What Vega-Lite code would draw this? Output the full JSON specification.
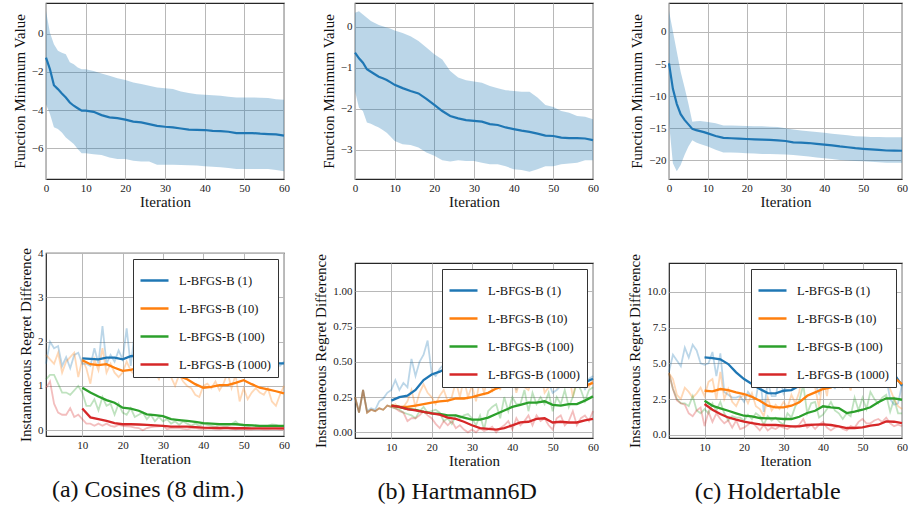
{
"$schema": "https://vega.github.io/schema/vega-lite/v6.json",
"background": "white",
"padding": {"left": 11, "top": 2, "right": 0, "bottom": 3},
"config": {
 "font": "Liberation Serif",
 "view": {"stroke": "#262626", "strokeWidth": 1.2},
 "legend": {"orient": "top-right", "offset": 6, "symbolType": "stroke", "symbolSize": 784, "symbolStrokeWidth": 2.5, "labelFont": "Liberation Serif", "labelFontSize": 12.5, "labelColor": "#111", "fillColor": "white", "strokeColor": "#333", "padding": 6, "rowPadding": 6, "labelOffset": 9},
 "title": {"font": "Liberation Serif", "fontSize": 24, "fontWeight": "normal", "color": "#111", "anchor": "middle"}
},
"datasets": {
 "tA": [
  {"i":0,"m":-1.25,"hi":1.18,"lo":-3.69},{"i":1,"m":-1.86,"hi":0.05,"lo":-4.2},{"i":2,"m":-2.7,"hi":-0.56,"lo":-4.9},{"i":3,"m":-2.9,"hi":-0.9,"lo":-4.99},{"i":4,"m":-3.13,"hi":-1.0,"lo":-5.17},{"i":5,"m":-3.34,"hi":-1.08,"lo":-5.43},{"i":6,"m":-3.6,"hi":-1.5,"lo":-5.6},{"i":7,"m":-3.77,"hi":-1.6,"lo":-5.77},{"i":8,"m":-3.9,"hi":-1.77,"lo":-6.03},{"i":9,"m":-4.03,"hi":-1.86,"lo":-6.26},{"i":10,"m":-4.03,"hi":-1.86,"lo":-6.26},{"i":12,"m":-4.09,"hi":-1.95,"lo":-6.3},{"i":14,"m":-4.26,"hi":-2.09,"lo":-6.35},{"i":16,"m":-4.38,"hi":-2.2,"lo":-6.47},{"i":18,"m":-4.42,"hi":-2.33,"lo":-6.56},{"i":20,"m":-4.5,"hi":-2.43,"lo":-6.56},{"i":22,"m":-4.6,"hi":-2.56,"lo":-6.64},{"i":24,"m":-4.64,"hi":-2.64,"lo":-6.68},{"i":26,"m":-4.73,"hi":-2.73,"lo":-6.68},{"i":28,"m":-4.82,"hi":-2.82,"lo":-6.85},{"i":30,"m":-4.87,"hi":-2.85,"lo":-6.85},{"i":32,"m":-4.9,"hi":-2.9,"lo":-6.86},{"i":34,"m":-4.96,"hi":-3.03,"lo":-6.87},{"i":36,"m":-5.02,"hi":-3.11,"lo":-6.88},{"i":38,"m":-5.03,"hi":-3.17,"lo":-6.9},{"i":40,"m":-5.04,"hi":-3.2,"lo":-6.94},{"i":42,"m":-5.08,"hi":-3.22,"lo":-6.96},{"i":44,"m":-5.1,"hi":-3.25,"lo":-6.99},{"i":46,"m":-5.13,"hi":-3.3,"lo":-7.03},{"i":48,"m":-5.2,"hi":-3.34,"lo":-7.08},{"i":50,"m":-5.2,"hi":-3.34,"lo":-7.08},{"i":52,"m":-5.2,"hi":-3.34,"lo":-7.08},{"i":54,"m":-5.23,"hi":-3.35,"lo":-7.08},{"i":56,"m":-5.25,"hi":-3.37,"lo":-7.08},{"i":58,"m":-5.27,"hi":-3.43,"lo":-7.13},{"i":60,"m":-5.33,"hi":-3.46,"lo":-7.2}
 ],
 "tB": [
  {"i":0,"m":-0.63,"hi":0.34,"lo":-1.57},{"i":1,"m":-0.77,"hi":0.38,"lo":-1.98},{"i":2,"m":-0.88,"hi":0.3,"lo":-2.06},{"i":3,"m":-1.04,"hi":0.22,"lo":-2.34},{"i":4,"m":-1.1,"hi":0.14,"lo":-2.37},{"i":5,"m":-1.16,"hi":0.09,"lo":-2.42},{"i":6,"m":-1.22,"hi":0.04,"lo":-2.46},{"i":7,"m":-1.26,"hi":0.01,"lo":-2.52},{"i":8,"m":-1.3,"hi":-0.02,"lo":-2.59},{"i":9,"m":-1.36,"hi":-0.05,"lo":-2.69},{"i":10,"m":-1.42,"hi":-0.09,"lo":-2.79},{"i":12,"m":-1.5,"hi":-0.15,"lo":-2.87},{"i":14,"m":-1.57,"hi":-0.23,"lo":-2.89},{"i":16,"m":-1.63,"hi":-0.35,"lo":-2.95},{"i":18,"m":-1.76,"hi":-0.51,"lo":-3.07},{"i":20,"m":-1.91,"hi":-0.67,"lo":-3.15},{"i":22,"m":-2.06,"hi":-0.8,"lo":-3.26},{"i":24,"m":-2.18,"hi":-1.08,"lo":-3.29},{"i":26,"m":-2.24,"hi":-1.24,"lo":-3.26},{"i":28,"m":-2.28,"hi":-1.31,"lo":-3.28},{"i":30,"m":-2.3,"hi":-1.34,"lo":-3.28},{"i":32,"m":-2.32,"hi":-1.37,"lo":-3.32},{"i":34,"m":-2.38,"hi":-1.45,"lo":-3.36},{"i":36,"m":-2.4,"hi":-1.5,"lo":-3.36},{"i":38,"m":-2.46,"hi":-1.55,"lo":-3.41},{"i":40,"m":-2.5,"hi":-1.57,"lo":-3.48},{"i":42,"m":-2.54,"hi":-1.59,"lo":-3.5},{"i":44,"m":-2.57,"hi":-1.59,"lo":-3.54},{"i":46,"m":-2.61,"hi":-1.73,"lo":-3.48},{"i":48,"m":-2.66,"hi":-1.91,"lo":-3.41},{"i":50,"m":-2.67,"hi":-1.96,"lo":-3.41},{"i":52,"m":-2.71,"hi":-2.06,"lo":-3.36},{"i":54,"m":-2.72,"hi":-2.1,"lo":-3.34},{"i":56,"m":-2.72,"hi":-2.18,"lo":-3.32},{"i":58,"m":-2.73,"hi":-2.2,"lo":-3.26},{"i":60,"m":-2.77,"hi":-2.26,"lo":-3.26}
 ],
 "tC": [
  {"i":0,"m":-4.9,"hi":3.27,"lo":-14.1},{"i":1,"m":-8.86,"hi":0.1,"lo":-20.46},{"i":2,"m":-11.2,"hi":-3.06,"lo":-21.68},{"i":3,"m":-12.8,"hi":-6.2,"lo":-20.73},{"i":4,"m":-13.7,"hi":-8.6,"lo":-19.15},{"i":5,"m":-14.4,"hi":-11.2,"lo":-17.83},{"i":6,"m":-15.1,"hi":-14.0,"lo":-16.88},{"i":7,"m":-15.3,"hi":-13.9,"lo":-17.2},{"i":8,"m":-15.45,"hi":-13.87,"lo":-17.46},{"i":9,"m":-15.6,"hi":-13.95,"lo":-17.65},{"i":10,"m":-15.8,"hi":-14.03,"lo":-17.83},{"i":12,"m":-16.2,"hi":-14.24,"lo":-18.35},{"i":14,"m":-16.5,"hi":-14.56,"lo":-18.78},{"i":16,"m":-16.56,"hi":-14.56,"lo":-18.78},{"i":18,"m":-16.6,"hi":-14.6,"lo":-18.83},{"i":20,"m":-16.67,"hi":-14.66,"lo":-18.88},{"i":22,"m":-16.72,"hi":-14.68,"lo":-18.93},{"i":24,"m":-16.77,"hi":-14.7,"lo":-18.99},{"i":26,"m":-16.82,"hi":-14.76,"lo":-19.0},{"i":28,"m":-16.88,"hi":-14.82,"lo":-19.04},{"i":30,"m":-16.98,"hi":-15.0,"lo":-19.1},{"i":32,"m":-17.2,"hi":-15.2,"lo":-19.15},{"i":34,"m":-17.25,"hi":-15.33,"lo":-19.28},{"i":36,"m":-17.3,"hi":-15.45,"lo":-19.41},{"i":38,"m":-17.43,"hi":-15.58,"lo":-19.54},{"i":40,"m":-17.56,"hi":-15.7,"lo":-19.67},{"i":42,"m":-17.67,"hi":-15.84,"lo":-19.8},{"i":44,"m":-17.83,"hi":-15.98,"lo":-19.94},{"i":46,"m":-17.96,"hi":-16.1,"lo":-20.02},{"i":48,"m":-18.1,"hi":-16.24,"lo":-20.1},{"i":50,"m":-18.2,"hi":-16.3,"lo":-20.15},{"i":52,"m":-18.3,"hi":-16.35,"lo":-20.2},{"i":54,"m":-18.38,"hi":-16.38,"lo":-20.28},{"i":56,"m":-18.46,"hi":-16.4,"lo":-20.36},{"i":58,"m":-18.48,"hi":-16.4,"lo":-20.36},{"i":60,"m":-18.5,"hi":-16.4,"lo":-20.36}
 ],
 "rA": [
  {"i":1,"n":1,"v":1.5},{"i":2,"n":1,"v":2.0},{"i":3,"n":1,"v":1.85},{"i":4,"n":1,"v":1.9},{"i":5,"n":1,"v":1.45},{"i":6,"n":1,"v":1.65},{"i":7,"n":1,"v":1.4},{"i":8,"n":1,"v":1.7},{"i":9,"n":1,"v":1.75},{"i":10,"n":1,"v":1.5},{"i":11,"n":1,"v":1.5},{"i":12,"n":1,"v":1.45},{"i":13,"n":1,"v":1.85},{"i":14,"n":1,"v":1.5},{"i":15,"n":1,"v":2.35},{"i":16,"n":1,"v":1.5},{"i":17,"n":1,"v":1.7},{"i":18,"n":1,"v":1.55},{"i":19,"n":1,"v":1.8},{"i":20,"n":1,"v":1.6},{"i":21,"n":1,"v":2.3},{"i":22,"n":1,"v":1.45},{"i":23,"n":1,"v":2.2},{"i":24,"n":1,"v":2.0},{"i":25,"n":1,"v":1.7},{"i":26,"n":1,"v":1.8},{"i":27,"n":1,"v":1.9},{"i":28,"n":1,"v":1.7},{"i":29,"n":1,"v":1.2},{"i":30,"n":1,"v":2.0},{"i":31,"n":1,"v":1.8},{"i":32,"n":1,"v":1.75},{"i":33,"n":1,"v":1.6},{"i":34,"n":1,"v":1.85},{"i":35,"n":1,"v":1.55},{"i":36,"n":1,"v":1.65},{"i":37,"n":1,"v":1.45},{"i":38,"n":1,"v":1.6},{"i":39,"n":1,"v":1.2},{"i":40,"n":1,"v":1.3},{"i":41,"n":1,"v":1.5},{"i":42,"n":1,"v":1.8},{"i":43,"n":1,"v":1.35},{"i":44,"n":1,"v":1.3},{"i":45,"n":1,"v":1.4},{"i":46,"n":1,"v":1.25},{"i":47,"n":1,"v":1.3},{"i":48,"n":1,"v":1.45},{"i":49,"n":1,"v":1.7},{"i":50,"n":1,"v":1.3},{"i":51,"n":1,"v":1.45},{"i":52,"n":1,"v":1.35},{"i":53,"n":1,"v":1.55},{"i":54,"n":1,"v":1.65},{"i":55,"n":1,"v":1.6},{"i":56,"n":1,"v":1.7},{"i":57,"n":1,"v":1.75},{"i":58,"n":1,"v":1.5},{"i":59,"n":1,"v":1.45},{"i":60,"n":1,"v":1.55},
  {"i":1,"n":10,"v":1.7},{"i":2,"n":10,"v":1.6},{"i":3,"n":10,"v":1.5},{"i":4,"n":10,"v":1.75},{"i":5,"n":10,"v":1.3},{"i":6,"n":10,"v":1.55},{"i":7,"n":10,"v":1.65},{"i":8,"n":10,"v":1.75},{"i":9,"n":10,"v":1.2},{"i":10,"n":10,"v":1.6},{"i":11,"n":10,"v":1.4},{"i":12,"n":10,"v":1.05},{"i":13,"n":10,"v":1.6},{"i":14,"n":10,"v":1.35},{"i":15,"n":10,"v":1.85},{"i":16,"n":10,"v":1.3},{"i":17,"n":10,"v":1.5},{"i":18,"n":10,"v":1.3},{"i":19,"n":10,"v":1.2},{"i":20,"n":10,"v":1.3},{"i":21,"n":10,"v":1.55},{"i":22,"n":10,"v":1.35},{"i":23,"n":10,"v":1.25},{"i":24,"n":10,"v":1.45},{"i":25,"n":10,"v":1.3},{"i":26,"n":10,"v":1.2},{"i":27,"n":10,"v":1.45},{"i":28,"n":10,"v":1.3},{"i":29,"n":10,"v":1.15},{"i":30,"n":10,"v":1.4},{"i":31,"n":10,"v":1.35},{"i":32,"n":10,"v":1.2},{"i":33,"n":10,"v":1.0},{"i":34,"n":10,"v":1.25},{"i":35,"n":10,"v":1.1},{"i":36,"n":10,"v":1.0},{"i":37,"n":10,"v":0.95},{"i":38,"n":10,"v":0.8},{"i":39,"n":10,"v":0.75},{"i":40,"n":10,"v":1.0},{"i":41,"n":10,"v":1.05},{"i":42,"n":10,"v":0.95},{"i":43,"n":10,"v":1.1},{"i":44,"n":10,"v":0.9},{"i":45,"n":10,"v":1.05},{"i":46,"n":10,"v":1.3},{"i":47,"n":10,"v":0.95},{"i":48,"n":10,"v":1.25},{"i":49,"n":10,"v":0.65},{"i":50,"n":10,"v":0.95},{"i":51,"n":10,"v":0.7},{"i":52,"n":10,"v":0.85},{"i":53,"n":10,"v":0.95},{"i":54,"n":10,"v":0.85},{"i":55,"n":10,"v":0.8},{"i":56,"n":10,"v":0.95},{"i":57,"n":10,"v":0.65},{"i":58,"n":10,"v":0.55},{"i":59,"n":10,"v":0.8},{"i":60,"n":10,"v":1.0},
  {"i":1,"n":100,"v":1.15},{"i":2,"n":100,"v":1.25},{"i":3,"n":100,"v":1.25},{"i":4,"n":100,"v":1.05},{"i":5,"n":100,"v":0.85},{"i":6,"n":100,"v":0.85},{"i":7,"n":100,"v":0.8},{"i":8,"n":100,"v":0.9},{"i":9,"n":100,"v":1.0},{"i":10,"n":100,"v":0.85},{"i":11,"n":100,"v":0.55},{"i":12,"n":100,"v":0.55},{"i":13,"n":100,"v":0.7},{"i":14,"n":100,"v":0.45},{"i":15,"n":100,"v":0.75},{"i":16,"n":100,"v":0.55},{"i":17,"n":100,"v":0.6},{"i":18,"n":100,"v":0.35},{"i":19,"n":100,"v":0.6},{"i":20,"n":100,"v":0.4},{"i":21,"n":100,"v":0.35},{"i":22,"n":100,"v":0.5},{"i":23,"n":100,"v":0.3},{"i":24,"n":100,"v":0.35},{"i":25,"n":100,"v":0.4},{"i":26,"n":100,"v":0.25},{"i":27,"n":100,"v":0.35},{"i":28,"n":100,"v":0.2},{"i":29,"n":100,"v":0.3},{"i":30,"n":100,"v":0.2},{"i":31,"n":100,"v":0.25},{"i":32,"n":100,"v":0.15},{"i":33,"n":100,"v":0.2},{"i":34,"n":100,"v":0.12},{"i":35,"n":100,"v":0.2},{"i":36,"n":100,"v":0.15},{"i":37,"n":100,"v":0.1},{"i":38,"n":100,"v":0.15},{"i":39,"n":100,"v":0.1},{"i":40,"n":100,"v":0.15},{"i":41,"n":100,"v":0.12},{"i":42,"n":100,"v":0.1},{"i":43,"n":100,"v":0.08},{"i":44,"n":100,"v":0.12},{"i":45,"n":100,"v":0.1},{"i":46,"n":100,"v":0.1},{"i":47,"n":100,"v":0.14},{"i":48,"n":100,"v":0.2},{"i":49,"n":100,"v":0.12},{"i":50,"n":100,"v":0.1},{"i":51,"n":100,"v":0.08},{"i":52,"n":100,"v":0.12},{"i":53,"n":100,"v":0.1},{"i":54,"n":100,"v":0.08},{"i":55,"n":100,"v":0.1},{"i":56,"n":100,"v":0.1},{"i":57,"n":100,"v":0.13},{"i":58,"n":100,"v":0.12},{"i":59,"n":100,"v":0.09},{"i":60,"n":100,"v":0.08},
  {"i":1,"n":1000,"v":0.95},{"i":2,"n":1000,"v":1.1},{"i":3,"n":1000,"v":0.6},{"i":4,"n":1000,"v":0.4},{"i":5,"n":1000,"v":0.35},{"i":6,"n":1000,"v":0.35},{"i":7,"n":1000,"v":0.5},{"i":8,"n":1000,"v":0.3},{"i":9,"n":1000,"v":0.35},{"i":10,"n":1000,"v":0.25},{"i":11,"n":1000,"v":0.15},{"i":12,"n":1000,"v":0.15},{"i":13,"n":1000,"v":0.1},{"i":14,"n":1000,"v":0.15},{"i":15,"n":1000,"v":0.1},{"i":16,"n":1000,"v":0.15},{"i":17,"n":1000,"v":0.1},{"i":18,"n":1000,"v":0.08},{"i":19,"n":1000,"v":0.12},{"i":20,"n":1000,"v":0.1},{"i":21,"n":1000,"v":0.09},{"i":22,"n":1000,"v":0.08},{"i":23,"n":1000,"v":0.06},{"i":24,"n":1000,"v":0.05},{"i":25,"n":1000,"v":0.0},{"i":26,"n":1000,"v":0.05},{"i":27,"n":1000,"v":0.07},{"i":28,"n":1000,"v":0.08},{"i":29,"n":1000,"v":0.09},{"i":30,"n":1000,"v":0.1},{"i":31,"n":1000,"v":0.02},{"i":32,"n":1000,"v":0.05},{"i":33,"n":1000,"v":0.04},{"i":34,"n":1000,"v":0.05},{"i":35,"n":1000,"v":0.03},{"i":36,"n":1000,"v":0.02},{"i":37,"n":1000,"v":0.04},{"i":38,"n":1000,"v":0.05},{"i":39,"n":1000,"v":0.03},{"i":40,"n":1000,"v":0.02},{"i":41,"n":1000,"v":0.03},{"i":42,"n":1000,"v":0.03},{"i":43,"n":1000,"v":0.02},{"i":44,"n":1000,"v":0.02},{"i":45,"n":1000,"v":0.04},{"i":46,"n":1000,"v":0.05},{"i":47,"n":1000,"v":0.03},{"i":48,"n":1000,"v":0.02},{"i":49,"n":1000,"v":0.03},{"i":50,"n":1000,"v":0.03},{"i":51,"n":1000,"v":0.02},{"i":52,"n":1000,"v":0.02},{"i":53,"n":1000,"v":0.03},{"i":54,"n":1000,"v":0.03},{"i":55,"n":1000,"v":0.02},{"i":56,"n":1000,"v":0.02},{"i":57,"n":1000,"v":0.03},{"i":58,"n":1000,"v":0.03},{"i":59,"n":1000,"v":0.02},{"i":60,"n":1000,"v":0.02}
 ],
 "sA": [
  {"i":10,"n":1,"v":1.62},{"i":12,"n":1,"v":1.61},{"i":14,"n":1,"v":1.6},{"i":16,"n":1,"v":1.64},{"i":18,"n":1,"v":1.64},{"i":20,"n":1,"v":1.6},{"i":22,"n":1,"v":1.67},{"i":24,"n":1,"v":1.69},{"i":26,"n":1,"v":1.68},{"i":28,"n":1,"v":1.71},{"i":30,"n":1,"v":1.75},{"i":32,"n":1,"v":1.75},{"i":34,"n":1,"v":1.64},{"i":36,"n":1,"v":1.6},{"i":38,"n":1,"v":1.51},{"i":40,"n":1,"v":1.41},{"i":42,"n":1,"v":1.34},{"i":44,"n":1,"v":1.37},{"i":46,"n":1,"v":1.34},{"i":48,"n":1,"v":1.38},{"i":50,"n":1,"v":1.45},{"i":52,"n":1,"v":1.41},{"i":54,"n":1,"v":1.41},{"i":56,"n":1,"v":1.46},{"i":58,"n":1,"v":1.51},{"i":60,"n":1,"v":1.51},
  {"i":10,"n":10,"v":1.58},{"i":12,"n":10,"v":1.49},{"i":14,"n":10,"v":1.47},{"i":16,"n":10,"v":1.49},{"i":18,"n":10,"v":1.41},{"i":20,"n":10,"v":1.34},{"i":22,"n":10,"v":1.36},{"i":24,"n":10,"v":1.41},{"i":26,"n":10,"v":1.28},{"i":28,"n":10,"v":1.36},{"i":30,"n":10,"v":1.37},{"i":32,"n":10,"v":1.37},{"i":34,"n":10,"v":1.22},{"i":36,"n":10,"v":1.15},{"i":38,"n":10,"v":1.04},{"i":40,"n":10,"v":0.96},{"i":42,"n":10,"v":0.98},{"i":44,"n":10,"v":1.02},{"i":46,"n":10,"v":1.02},{"i":48,"n":10,"v":1.07},{"i":50,"n":10,"v":1.13},{"i":52,"n":10,"v":1.04},{"i":54,"n":10,"v":0.96},{"i":56,"n":10,"v":0.92},{"i":58,"n":10,"v":0.88},{"i":60,"n":10,"v":0.83},
  {"i":10,"n":100,"v":0.96},{"i":12,"n":100,"v":0.85},{"i":14,"n":100,"v":0.76},{"i":16,"n":100,"v":0.68},{"i":18,"n":100,"v":0.62},{"i":20,"n":100,"v":0.51},{"i":22,"n":100,"v":0.49},{"i":24,"n":100,"v":0.44},{"i":26,"n":100,"v":0.36},{"i":28,"n":100,"v":0.34},{"i":30,"n":100,"v":0.32},{"i":32,"n":100,"v":0.25},{"i":34,"n":100,"v":0.23},{"i":36,"n":100,"v":0.21},{"i":38,"n":100,"v":0.19},{"i":40,"n":100,"v":0.16},{"i":42,"n":100,"v":0.15},{"i":44,"n":100,"v":0.14},{"i":46,"n":100,"v":0.14},{"i":48,"n":100,"v":0.135},{"i":50,"n":100,"v":0.12},{"i":52,"n":100,"v":0.11},{"i":54,"n":100,"v":0.1},{"i":56,"n":100,"v":0.1},{"i":58,"n":100,"v":0.1},{"i":60,"n":100,"v":0.1},
  {"i":10,"n":1000,"v":0.49},{"i":12,"n":1000,"v":0.29},{"i":14,"n":1000,"v":0.25},{"i":16,"n":1000,"v":0.21},{"i":18,"n":1000,"v":0.16},{"i":20,"n":1000,"v":0.135},{"i":22,"n":1000,"v":0.135},{"i":24,"n":1000,"v":0.13},{"i":26,"n":1000,"v":0.12},{"i":28,"n":1000,"v":0.11},{"i":30,"n":1000,"v":0.1},{"i":32,"n":1000,"v":0.08},{"i":34,"n":1000,"v":0.08},{"i":36,"n":1000,"v":0.08},{"i":38,"n":1000,"v":0.07},{"i":40,"n":1000,"v":0.06},{"i":42,"n":1000,"v":0.055},{"i":44,"n":1000,"v":0.05},{"i":46,"n":1000,"v":0.05},{"i":48,"n":1000,"v":0.045},{"i":50,"n":1000,"v":0.045},{"i":52,"n":1000,"v":0.04},{"i":54,"n":1000,"v":0.04},{"i":56,"n":1000,"v":0.04},{"i":58,"n":1000,"v":0.04},{"i":60,"n":1000,"v":0.04}
 ],
 "rB": [
  {"i":1,"n":1,"v":0.25},{"i":2,"n":1,"v":0.14},{"i":3,"n":1,"v":0.3},{"i":4,"n":1,"v":0.15},{"i":5,"n":1,"v":0.17},{"i":6,"n":1,"v":0.16},{"i":7,"n":1,"v":0.22},{"i":8,"n":1,"v":0.24},{"i":9,"n":1,"v":0.28},{"i":10,"n":1,"v":0.3},{"i":11,"n":1,"v":0.37},{"i":12,"n":1,"v":0.3},{"i":13,"n":1,"v":0.35},{"i":14,"n":1,"v":0.32},{"i":15,"n":1,"v":0.52},{"i":16,"n":1,"v":0.4},{"i":17,"n":1,"v":0.5},{"i":18,"n":1,"v":0.55},{"i":19,"n":1,"v":0.65},{"i":20,"n":1,"v":0.42},{"i":21,"n":1,"v":0.4},{"i":22,"n":1,"v":0.45},{"i":23,"n":1,"v":0.48},{"i":24,"n":1,"v":0.42},{"i":25,"n":1,"v":0.56},{"i":26,"n":1,"v":0.52},{"i":27,"n":1,"v":0.38},{"i":28,"n":1,"v":0.5},{"i":29,"n":1,"v":0.35},{"i":30,"n":1,"v":0.54},{"i":31,"n":1,"v":0.4},{"i":32,"n":1,"v":0.5},{"i":33,"n":1,"v":0.62},{"i":34,"n":1,"v":0.42},{"i":35,"n":1,"v":0.5},{"i":36,"n":1,"v":0.45},{"i":37,"n":1,"v":0.44},{"i":38,"n":1,"v":0.47},{"i":39,"n":1,"v":0.35},{"i":40,"n":1,"v":0.45},{"i":41,"n":1,"v":0.3},{"i":42,"n":1,"v":0.45},{"i":43,"n":1,"v":0.48},{"i":44,"n":1,"v":0.38},{"i":45,"n":1,"v":0.44},{"i":46,"n":1,"v":0.35},{"i":47,"n":1,"v":0.4},{"i":48,"n":1,"v":0.42},{"i":49,"n":1,"v":0.35},{"i":50,"n":1,"v":0.28},{"i":51,"n":1,"v":0.3},{"i":52,"n":1,"v":0.33},{"i":53,"n":1,"v":0.52},{"i":54,"n":1,"v":0.35},{"i":55,"n":1,"v":0.4},{"i":56,"n":1,"v":0.38},{"i":57,"n":1,"v":0.48},{"i":58,"n":1,"v":0.3},{"i":59,"n":1,"v":0.38},{"i":60,"n":1,"v":0.4},
  {"i":1,"n":10,"v":0.25},{"i":2,"n":10,"v":0.14},{"i":3,"n":10,"v":0.3},{"i":4,"n":10,"v":0.14},{"i":5,"n":10,"v":0.16},{"i":6,"n":10,"v":0.15},{"i":7,"n":10,"v":0.17},{"i":8,"n":10,"v":0.16},{"i":9,"n":10,"v":0.19},{"i":10,"n":10,"v":0.18},{"i":11,"n":10,"v":0.2},{"i":12,"n":10,"v":0.17},{"i":13,"n":10,"v":0.18},{"i":14,"n":10,"v":0.22},{"i":15,"n":10,"v":0.3},{"i":16,"n":10,"v":0.18},{"i":17,"n":10,"v":0.28},{"i":18,"n":10,"v":0.34},{"i":19,"n":10,"v":0.28},{"i":20,"n":10,"v":0.25},{"i":21,"n":10,"v":0.2},{"i":22,"n":10,"v":0.26},{"i":23,"n":10,"v":0.3},{"i":24,"n":10,"v":0.22},{"i":25,"n":10,"v":0.25},{"i":26,"n":10,"v":0.36},{"i":27,"n":10,"v":0.25},{"i":28,"n":10,"v":0.38},{"i":29,"n":10,"v":0.25},{"i":30,"n":10,"v":0.33},{"i":31,"n":10,"v":0.22},{"i":32,"n":10,"v":0.38},{"i":33,"n":10,"v":0.28},{"i":34,"n":10,"v":0.4},{"i":35,"n":10,"v":0.3},{"i":36,"n":10,"v":0.42},{"i":37,"n":10,"v":0.3},{"i":38,"n":10,"v":0.45},{"i":39,"n":10,"v":0.32},{"i":40,"n":10,"v":0.42},{"i":41,"n":10,"v":0.28},{"i":42,"n":10,"v":0.38},{"i":43,"n":10,"v":0.32},{"i":44,"n":10,"v":0.3},{"i":45,"n":10,"v":0.38},{"i":46,"n":10,"v":0.35},{"i":47,"n":10,"v":0.43},{"i":48,"n":10,"v":0.28},{"i":49,"n":10,"v":0.32},{"i":50,"n":10,"v":0.38},{"i":51,"n":10,"v":0.32},{"i":52,"n":10,"v":0.4},{"i":53,"n":10,"v":0.35},{"i":54,"n":10,"v":0.42},{"i":55,"n":10,"v":0.25},{"i":56,"n":10,"v":0.38},{"i":57,"n":10,"v":0.44},{"i":58,"n":10,"v":0.35},{"i":59,"n":10,"v":0.32},{"i":60,"n":10,"v":0.38},
  {"i":1,"n":100,"v":0.25},{"i":2,"n":100,"v":0.14},{"i":3,"n":100,"v":0.3},{"i":4,"n":100,"v":0.14},{"i":5,"n":100,"v":0.16},{"i":6,"n":100,"v":0.15},{"i":7,"n":100,"v":0.17},{"i":8,"n":100,"v":0.16},{"i":9,"n":100,"v":0.19},{"i":10,"n":100,"v":0.18},{"i":11,"n":100,"v":0.17},{"i":12,"n":100,"v":0.16},{"i":13,"n":100,"v":0.14},{"i":14,"n":100,"v":0.13},{"i":15,"n":100,"v":0.12},{"i":16,"n":100,"v":0.1},{"i":17,"n":100,"v":0.15},{"i":18,"n":100,"v":0.18},{"i":19,"n":100,"v":0.14},{"i":20,"n":100,"v":0.15},{"i":21,"n":100,"v":0.16},{"i":22,"n":100,"v":0.14},{"i":23,"n":100,"v":0.08},{"i":24,"n":100,"v":0.1},{"i":25,"n":100,"v":0.06},{"i":26,"n":100,"v":0.12},{"i":27,"n":100,"v":0.1},{"i":28,"n":100,"v":0.12},{"i":29,"n":100,"v":0.13},{"i":30,"n":100,"v":0.1},{"i":31,"n":100,"v":0.05},{"i":32,"n":100,"v":0.12},{"i":33,"n":100,"v":0.02},{"i":34,"n":100,"v":0.15},{"i":35,"n":100,"v":0.18},{"i":36,"n":100,"v":0.2},{"i":37,"n":100,"v":0.1},{"i":38,"n":100,"v":0.25},{"i":39,"n":100,"v":0.15},{"i":40,"n":100,"v":0.25},{"i":41,"n":100,"v":0.2},{"i":42,"n":100,"v":0.2},{"i":43,"n":100,"v":0.3},{"i":44,"n":100,"v":0.15},{"i":45,"n":100,"v":0.28},{"i":46,"n":100,"v":0.2},{"i":47,"n":100,"v":0.25},{"i":48,"n":100,"v":0.2},{"i":49,"n":100,"v":0.28},{"i":50,"n":100,"v":0.15},{"i":51,"n":100,"v":0.25},{"i":52,"n":100,"v":0.2},{"i":53,"n":100,"v":0.3},{"i":54,"n":100,"v":0.18},{"i":55,"n":100,"v":0.25},{"i":56,"n":100,"v":0.35},{"i":57,"n":100,"v":0.3},{"i":58,"n":100,"v":0.22},{"i":59,"n":100,"v":0.3},{"i":60,"n":100,"v":0.32},
  {"i":1,"n":1000,"v":0.25},{"i":2,"n":1000,"v":0.14},{"i":3,"n":1000,"v":0.3},{"i":4,"n":1000,"v":0.14},{"i":5,"n":1000,"v":0.16},{"i":6,"n":1000,"v":0.15},{"i":7,"n":1000,"v":0.17},{"i":8,"n":1000,"v":0.16},{"i":9,"n":1000,"v":0.19},{"i":10,"n":1000,"v":0.18},{"i":11,"n":1000,"v":0.17},{"i":12,"n":1000,"v":0.15},{"i":13,"n":1000,"v":0.14},{"i":14,"n":1000,"v":0.08},{"i":15,"n":1000,"v":0.1},{"i":16,"n":1000,"v":0.1},{"i":17,"n":1000,"v":0.12},{"i":18,"n":1000,"v":0.15},{"i":19,"n":1000,"v":0.12},{"i":20,"n":1000,"v":0.1},{"i":21,"n":1000,"v":0.06},{"i":22,"n":1000,"v":0.03},{"i":23,"n":1000,"v":0.08},{"i":24,"n":1000,"v":0.05},{"i":25,"n":1000,"v":0.08},{"i":26,"n":1000,"v":0.03},{"i":27,"n":1000,"v":0.05},{"i":28,"n":1000,"v":0.02},{"i":29,"n":1000,"v":0.0},{"i":30,"n":1000,"v":0.02},{"i":31,"n":1000,"v":0.0},{"i":32,"n":1000,"v":0.03},{"i":33,"n":1000,"v":0.01},{"i":34,"n":1000,"v":0.02},{"i":35,"n":1000,"v":0.04},{"i":36,"n":1000,"v":0.0},{"i":37,"n":1000,"v":0.03},{"i":38,"n":1000,"v":0.05},{"i":39,"n":1000,"v":0.08},{"i":40,"n":1000,"v":0.02},{"i":41,"n":1000,"v":0.1},{"i":42,"n":1000,"v":0.05},{"i":43,"n":1000,"v":0.08},{"i":44,"n":1000,"v":0.12},{"i":45,"n":1000,"v":0.05},{"i":46,"n":1000,"v":0.12},{"i":47,"n":1000,"v":0.08},{"i":48,"n":1000,"v":0.1},{"i":49,"n":1000,"v":0.05},{"i":50,"n":1000,"v":0.02},{"i":51,"n":1000,"v":0.1},{"i":52,"n":1000,"v":0.12},{"i":53,"n":1000,"v":0.05},{"i":54,"n":1000,"v":0.08},{"i":55,"n":1000,"v":0.15},{"i":56,"n":1000,"v":0.05},{"i":57,"n":1000,"v":0.1},{"i":58,"n":1000,"v":0.12},{"i":59,"n":1000,"v":0.08},{"i":60,"n":1000,"v":0.15}
 ],
 "sB": [
  {"i":10,"n":1,"v":0.225},{"i":12,"n":1,"v":0.25},{"i":14,"n":1,"v":0.26},{"i":16,"n":1,"v":0.3},{"i":18,"n":1,"v":0.37},{"i":20,"n":1,"v":0.41},{"i":22,"n":1,"v":0.43},{"i":24,"n":1,"v":0.46},{"i":26,"n":1,"v":0.48},{"i":28,"n":1,"v":0.48},{"i":30,"n":1,"v":0.45},{"i":32,"n":1,"v":0.46},{"i":34,"n":1,"v":0.46},{"i":36,"n":1,"v":0.445},{"i":38,"n":1,"v":0.45},{"i":40,"n":1,"v":0.44},{"i":42,"n":1,"v":0.425},{"i":44,"n":1,"v":0.41},{"i":46,"n":1,"v":0.405},{"i":48,"n":1,"v":0.4},{"i":50,"n":1,"v":0.36},{"i":52,"n":1,"v":0.35},{"i":54,"n":1,"v":0.355},{"i":56,"n":1,"v":0.35},{"i":58,"n":1,"v":0.355},{"i":60,"n":1,"v":0.38},
  {"i":10,"n":10,"v":0.19},{"i":12,"n":10,"v":0.18},{"i":14,"n":10,"v":0.18},{"i":16,"n":10,"v":0.19},{"i":18,"n":10,"v":0.2},{"i":20,"n":10,"v":0.21},{"i":22,"n":10,"v":0.22},{"i":24,"n":10,"v":0.225},{"i":26,"n":10,"v":0.24},{"i":28,"n":10,"v":0.24},{"i":30,"n":10,"v":0.25},{"i":32,"n":10,"v":0.265},{"i":34,"n":10,"v":0.28},{"i":36,"n":10,"v":0.31},{"i":38,"n":10,"v":0.33},{"i":40,"n":10,"v":0.35},{"i":42,"n":10,"v":0.345},{"i":44,"n":10,"v":0.355},{"i":46,"n":10,"v":0.355},{"i":48,"n":10,"v":0.365},{"i":50,"n":10,"v":0.33},{"i":52,"n":10,"v":0.33},{"i":54,"n":10,"v":0.325},{"i":56,"n":10,"v":0.33},{"i":58,"n":10,"v":0.33},{"i":60,"n":10,"v":0.35},
  {"i":10,"n":100,"v":0.19},{"i":12,"n":100,"v":0.18},{"i":14,"n":100,"v":0.165},{"i":16,"n":100,"v":0.16},{"i":18,"n":100,"v":0.145},{"i":20,"n":100,"v":0.135},{"i":22,"n":100,"v":0.13},{"i":24,"n":100,"v":0.12},{"i":26,"n":100,"v":0.12},{"i":28,"n":100,"v":0.105},{"i":30,"n":100,"v":0.09},{"i":32,"n":100,"v":0.09},{"i":34,"n":100,"v":0.105},{"i":36,"n":100,"v":0.13},{"i":38,"n":100,"v":0.155},{"i":40,"n":100,"v":0.18},{"i":42,"n":100,"v":0.195},{"i":44,"n":100,"v":0.21},{"i":46,"n":100,"v":0.21},{"i":48,"n":100,"v":0.22},{"i":50,"n":100,"v":0.195},{"i":52,"n":100,"v":0.19},{"i":54,"n":100,"v":0.2},{"i":56,"n":100,"v":0.2},{"i":58,"n":100,"v":0.225},{"i":60,"n":100,"v":0.255},
  {"i":10,"n":1000,"v":0.19},{"i":12,"n":1000,"v":0.18},{"i":14,"n":1000,"v":0.165},{"i":16,"n":1000,"v":0.155},{"i":18,"n":1000,"v":0.145},{"i":20,"n":1000,"v":0.135},{"i":22,"n":1000,"v":0.125},{"i":24,"n":1000,"v":0.105},{"i":26,"n":1000,"v":0.095},{"i":28,"n":1000,"v":0.075},{"i":30,"n":1000,"v":0.05},{"i":32,"n":1000,"v":0.03},{"i":34,"n":1000,"v":0.025},{"i":36,"n":1000,"v":0.02},{"i":38,"n":1000,"v":0.03},{"i":40,"n":1000,"v":0.05},{"i":42,"n":1000,"v":0.07},{"i":44,"n":1000,"v":0.075},{"i":46,"n":1000,"v":0.095},{"i":48,"n":1000,"v":0.1},{"i":50,"n":1000,"v":0.07},{"i":52,"n":1000,"v":0.075},{"i":54,"n":1000,"v":0.07},{"i":56,"n":1000,"v":0.07},{"i":58,"n":1000,"v":0.085},{"i":60,"n":1000,"v":0.095}
 ],
 "rC": [
  {"i":1,"n":1,"v":4.4},{"i":2,"n":1,"v":5.6},{"i":3,"n":1,"v":5.2},{"i":4,"n":1,"v":4.8},{"i":5,"n":1,"v":6.1},{"i":6,"n":1,"v":5.4},{"i":7,"n":1,"v":6.3},{"i":8,"n":1,"v":5.9},{"i":9,"n":1,"v":5.0},{"i":10,"n":1,"v":4.9},{"i":11,"n":1,"v":5.0},{"i":12,"n":1,"v":5.8},{"i":13,"n":1,"v":4.1},{"i":14,"n":1,"v":5.7},{"i":15,"n":1,"v":3.0},{"i":16,"n":1,"v":2.8},{"i":17,"n":1,"v":2.6},{"i":18,"n":1,"v":2.6},{"i":19,"n":1,"v":2.7},{"i":20,"n":1,"v":2.3},{"i":21,"n":1,"v":3.0},{"i":22,"n":1,"v":2.6},{"i":23,"n":1,"v":2.5},{"i":24,"n":1,"v":4.2},{"i":25,"n":1,"v":1.6},{"i":26,"n":1,"v":3.7},{"i":27,"n":1,"v":2.7},{"i":28,"n":1,"v":2.7},{"i":29,"n":1,"v":4.1},{"i":30,"n":1,"v":2.9},{"i":31,"n":1,"v":3.6},{"i":32,"n":1,"v":3.9},{"i":33,"n":1,"v":4.5},{"i":34,"n":1,"v":3.5},{"i":35,"n":1,"v":4.9},{"i":36,"n":1,"v":3.3},{"i":37,"n":1,"v":4.1},{"i":38,"n":1,"v":3.6},{"i":39,"n":1,"v":2.9},{"i":40,"n":1,"v":3.8},{"i":41,"n":1,"v":3.3},{"i":42,"n":1,"v":4.1},{"i":43,"n":1,"v":3.2},{"i":44,"n":1,"v":5.4},{"i":45,"n":1,"v":5.0},{"i":46,"n":1,"v":3.6},{"i":47,"n":1,"v":3.5},{"i":48,"n":1,"v":4.8},{"i":49,"n":1,"v":5.0},{"i":50,"n":1,"v":4.5},{"i":51,"n":1,"v":4.7},{"i":52,"n":1,"v":4.4},{"i":53,"n":1,"v":4.3},{"i":54,"n":1,"v":4.6},{"i":55,"n":1,"v":3.7},{"i":56,"n":1,"v":4.0},{"i":57,"n":1,"v":2.5},{"i":58,"n":1,"v":2.1},{"i":59,"n":1,"v":2.2},{"i":60,"n":1,"v":3.5},
  {"i":1,"n":10,"v":4.3},{"i":2,"n":10,"v":3.9},{"i":3,"n":10,"v":2.8},{"i":4,"n":10,"v":2.5},{"i":5,"n":10,"v":3.3},{"i":6,"n":10,"v":3.0},{"i":7,"n":10,"v":2.6},{"i":8,"n":10,"v":2.9},{"i":9,"n":10,"v":3.3},{"i":10,"n":10,"v":2.7},{"i":11,"n":10,"v":3.7},{"i":12,"n":10,"v":3.9},{"i":13,"n":10,"v":2.5},{"i":14,"n":10,"v":4.4},{"i":15,"n":10,"v":2.5},{"i":16,"n":10,"v":3.2},{"i":17,"n":10,"v":2.3},{"i":18,"n":10,"v":2.0},{"i":19,"n":10,"v":2.6},{"i":20,"n":10,"v":2.8},{"i":21,"n":10,"v":2.2},{"i":22,"n":10,"v":2.9},{"i":23,"n":10,"v":2.0},{"i":24,"n":10,"v":1.8},{"i":25,"n":10,"v":1.3},{"i":26,"n":10,"v":2.6},{"i":27,"n":10,"v":1.7},{"i":28,"n":10,"v":2.1},{"i":29,"n":10,"v":1.8},{"i":30,"n":10,"v":2.3},{"i":31,"n":10,"v":1.9},{"i":32,"n":10,"v":2.8},{"i":33,"n":10,"v":2.2},{"i":34,"n":10,"v":3.0},{"i":35,"n":10,"v":4.9},{"i":36,"n":10,"v":3.8},{"i":37,"n":10,"v":4.0},{"i":38,"n":10,"v":3.3},{"i":39,"n":10,"v":1.9},{"i":40,"n":10,"v":4.0},{"i":41,"n":10,"v":2.7},{"i":42,"n":10,"v":4.6},{"i":43,"n":10,"v":4.1},{"i":44,"n":10,"v":4.5},{"i":45,"n":10,"v":3.4},{"i":46,"n":10,"v":4.0},{"i":47,"n":10,"v":3.1},{"i":48,"n":10,"v":4.6},{"i":49,"n":10,"v":4.2},{"i":50,"n":10,"v":4.6},{"i":51,"n":10,"v":3.8},{"i":52,"n":10,"v":4.2},{"i":53,"n":10,"v":5.0},{"i":54,"n":10,"v":4.2},{"i":55,"n":10,"v":3.8},{"i":56,"n":10,"v":4.6},{"i":57,"n":10,"v":3.2},{"i":58,"n":10,"v":2.5},{"i":59,"n":10,"v":2.0},{"i":60,"n":10,"v":1.8},
  {"i":1,"n":100,"v":4.3},{"i":2,"n":100,"v":3.2},{"i":3,"n":100,"v":2.5},{"i":4,"n":100,"v":2.2},{"i":5,"n":100,"v":2.2},{"i":6,"n":100,"v":2.0},{"i":7,"n":100,"v":2.7},{"i":8,"n":100,"v":1.7},{"i":9,"n":100,"v":1.5},{"i":10,"n":100,"v":1.8},{"i":11,"n":100,"v":1.5},{"i":12,"n":100,"v":2.2},{"i":13,"n":100,"v":1.7},{"i":14,"n":100,"v":2.3},{"i":15,"n":100,"v":1.5},{"i":16,"n":100,"v":1.0},{"i":17,"n":100,"v":1.3},{"i":18,"n":100,"v":1.2},{"i":19,"n":100,"v":1.2},{"i":20,"n":100,"v":1.0},{"i":21,"n":100,"v":1.4},{"i":22,"n":100,"v":1.1},{"i":23,"n":100,"v":1.5},{"i":24,"n":100,"v":1.3},{"i":25,"n":100,"v":0.7},{"i":26,"n":100,"v":1.3},{"i":27,"n":100,"v":1.0},{"i":28,"n":100,"v":1.2},{"i":29,"n":100,"v":0.9},{"i":30,"n":100,"v":0.7},{"i":31,"n":100,"v":1.5},{"i":32,"n":100,"v":1.2},{"i":33,"n":100,"v":2.0},{"i":34,"n":100,"v":2.4},{"i":35,"n":100,"v":3.5},{"i":36,"n":100,"v":1.5},{"i":37,"n":100,"v":2.2},{"i":38,"n":100,"v":2.3},{"i":39,"n":100,"v":1.2},{"i":40,"n":100,"v":1.4},{"i":41,"n":100,"v":1.8},{"i":42,"n":100,"v":2.3},{"i":43,"n":100,"v":1.7},{"i":44,"n":100,"v":1.5},{"i":45,"n":100,"v":1.1},{"i":46,"n":100,"v":1.5},{"i":47,"n":100,"v":1.3},{"i":48,"n":100,"v":2.6},{"i":49,"n":100,"v":1.7},{"i":50,"n":100,"v":2.6},{"i":51,"n":100,"v":1.8},{"i":52,"n":100,"v":3.0},{"i":53,"n":100,"v":2.5},{"i":54,"n":100,"v":2.2},{"i":55,"n":100,"v":2.6},{"i":56,"n":100,"v":2.8},{"i":57,"n":100,"v":1.6},{"i":58,"n":100,"v":2.5},{"i":59,"n":100,"v":1.5},{"i":60,"n":100,"v":1.5},
  {"i":1,"n":1000,"v":4.3},{"i":2,"n":1000,"v":3.2},{"i":3,"n":1000,"v":2.4},{"i":4,"n":1000,"v":2.2},{"i":5,"n":1000,"v":2.1},{"i":6,"n":1000,"v":1.5},{"i":7,"n":1000,"v":1.3},{"i":8,"n":1000,"v":1.7},{"i":9,"n":1000,"v":1.9},{"i":10,"n":1000,"v":0.6},{"i":11,"n":1000,"v":1.6},{"i":12,"n":1000,"v":0.9},{"i":13,"n":1000,"v":1.5},{"i":14,"n":1000,"v":1.1},{"i":15,"n":1000,"v":0.8},{"i":16,"n":1000,"v":1.0},{"i":17,"n":1000,"v":0.5},{"i":18,"n":1000,"v":1.0},{"i":19,"n":1000,"v":0.4},{"i":20,"n":1000,"v":0.5},{"i":21,"n":1000,"v":0.7},{"i":22,"n":1000,"v":0.9},{"i":23,"n":1000,"v":0.6},{"i":24,"n":1000,"v":0.3},{"i":25,"n":1000,"v":0.7},{"i":26,"n":1000,"v":0.3},{"i":27,"n":1000,"v":0.5},{"i":28,"n":1000,"v":0.4},{"i":29,"n":1000,"v":0.6},{"i":30,"n":1000,"v":0.5},{"i":31,"n":1000,"v":0.4},{"i":32,"n":1000,"v":0.6},{"i":33,"n":1000,"v":0.5},{"i":34,"n":1000,"v":0.7},{"i":35,"n":1000,"v":1.1},{"i":36,"n":1000,"v":0.5},{"i":37,"n":1000,"v":0.7},{"i":38,"n":1000,"v":0.4},{"i":39,"n":1000,"v":0.7},{"i":40,"n":1000,"v":0.9},{"i":41,"n":1000,"v":0.5},{"i":42,"n":1000,"v":0.3},{"i":43,"n":1000,"v":0.5},{"i":44,"n":1000,"v":0.6},{"i":45,"n":1000,"v":0.4},{"i":46,"n":1000,"v":0.3},{"i":47,"n":1000,"v":0.6},{"i":48,"n":1000,"v":0.5},{"i":49,"n":1000,"v":0.9},{"i":50,"n":1000,"v":1.1},{"i":51,"n":1000,"v":0.8},{"i":52,"n":1000,"v":0.8},{"i":53,"n":1000,"v":1.0},{"i":54,"n":1000,"v":1.1},{"i":55,"n":1000,"v":0.9},{"i":56,"n":1000,"v":1.2},{"i":57,"n":1000,"v":0.8},{"i":58,"n":1000,"v":0.6},{"i":59,"n":1000,"v":0.7},{"i":60,"n":1000,"v":0.6}
 ],
 "sC": [
  {"i":10,"n":1,"v":5.42},{"i":12,"n":1,"v":5.37},{"i":14,"n":1,"v":5.28},{"i":16,"n":1,"v":4.95},{"i":18,"n":1,"v":4.37},{"i":20,"n":1,"v":3.9},{"i":22,"n":1,"v":3.55},{"i":24,"n":1,"v":3.2},{"i":26,"n":1,"v":2.92},{"i":28,"n":1,"v":2.9},{"i":30,"n":1,"v":3.08},{"i":32,"n":1,"v":3.13},{"i":34,"n":1,"v":3.43},{"i":36,"n":1,"v":3.78},{"i":38,"n":1,"v":3.9},{"i":40,"n":1,"v":3.71},{"i":42,"n":1,"v":3.71},{"i":44,"n":1,"v":3.83},{"i":46,"n":1,"v":3.78},{"i":48,"n":1,"v":4.14},{"i":50,"n":1,"v":4.37},{"i":52,"n":1,"v":4.56},{"i":54,"n":1,"v":4.56},{"i":56,"n":1,"v":4.42},{"i":58,"n":1,"v":4.25},{"i":60,"n":1,"v":3.43},
  {"i":10,"n":10,"v":3.08},{"i":12,"n":10,"v":3.04},{"i":14,"n":10,"v":3.2},{"i":16,"n":10,"v":3.13},{"i":18,"n":10,"v":2.97},{"i":20,"n":10,"v":2.85},{"i":22,"n":10,"v":2.66},{"i":24,"n":10,"v":2.38},{"i":26,"n":10,"v":2.03},{"i":28,"n":10,"v":1.92},{"i":30,"n":10,"v":1.92},{"i":32,"n":10,"v":2.03},{"i":34,"n":10,"v":2.27},{"i":36,"n":10,"v":2.73},{"i":38,"n":10,"v":2.97},{"i":40,"n":10,"v":3.2},{"i":42,"n":10,"v":3.32},{"i":44,"n":10,"v":3.55},{"i":46,"n":10,"v":3.43},{"i":48,"n":10,"v":3.67},{"i":50,"n":10,"v":4.02},{"i":52,"n":10,"v":4.18},{"i":54,"n":10,"v":4.32},{"i":56,"n":10,"v":4.37},{"i":58,"n":10,"v":4.02},{"i":60,"n":10,"v":3.55},
  {"i":10,"n":100,"v":2.38},{"i":12,"n":100,"v":2.03},{"i":14,"n":100,"v":1.85},{"i":16,"n":100,"v":1.68},{"i":18,"n":100,"v":1.5},{"i":20,"n":100,"v":1.33},{"i":22,"n":100,"v":1.28},{"i":24,"n":100,"v":1.17},{"i":26,"n":100,"v":1.14},{"i":28,"n":100,"v":1.14},{"i":30,"n":100,"v":1.1},{"i":32,"n":100,"v":1.1},{"i":34,"n":100,"v":1.26},{"i":36,"n":100,"v":1.52},{"i":38,"n":100,"v":1.68},{"i":40,"n":100,"v":1.99},{"i":42,"n":100,"v":1.92},{"i":44,"n":100,"v":1.87},{"i":46,"n":100,"v":1.52},{"i":48,"n":100,"v":1.61},{"i":50,"n":100,"v":1.75},{"i":52,"n":100,"v":1.92},{"i":54,"n":100,"v":2.27},{"i":56,"n":100,"v":2.55},{"i":58,"n":100,"v":2.55},{"i":60,"n":100,"v":2.45},
  {"i":10,"n":1000,"v":2.15},{"i":12,"n":1000,"v":1.75},{"i":14,"n":1000,"v":1.45},{"i":16,"n":1000,"v":1.21},{"i":18,"n":1000,"v":1.05},{"i":20,"n":1000,"v":0.91},{"i":22,"n":1000,"v":0.82},{"i":24,"n":1000,"v":0.72},{"i":26,"n":1000,"v":0.68},{"i":28,"n":1000,"v":0.68},{"i":30,"n":1000,"v":0.63},{"i":32,"n":1000,"v":0.58},{"i":34,"n":1000,"v":0.58},{"i":36,"n":1000,"v":0.68},{"i":38,"n":1000,"v":0.7},{"i":40,"n":1000,"v":0.72},{"i":42,"n":1000,"v":0.68},{"i":44,"n":1000,"v":0.58},{"i":46,"n":1000,"v":0.47},{"i":48,"n":1000,"v":0.47},{"i":50,"n":1000,"v":0.51},{"i":52,"n":1000,"v":0.63},{"i":54,"n":1000,"v":0.7},{"i":56,"n":1000,"v":0.93},{"i":58,"n":1000,"v":0.91},{"i":60,"n":1000,"v":0.82}
 ]
},
"hconcat": [
 {
  "hconcat": [
   {
    "vconcat": [
     {
      "width": 238, "height": 176,
      "data": {"name": "tA"},
      "encoding": {"x": {"field": "i", "type": "quantitative", "scale": {"domain": [0, 60], "nice": false}, "axis": {"values": [0,10,20,30,40,50,60], "title": "Iteration", "labelFlush": false, "labelFont": "Liberation Serif", "labelFontSize": 11, "labelColor": "#222", "titleFont": "Liberation Serif", "titleFontSize": 15, "titleFontWeight": "normal", "titleColor": "#111", "gridColor": "#b8b8b8", "domain": false, "ticks": false, "labelPadding": 3, "titlePadding": 1}}},
      "layer": [
       {"mark": {"type": "area", "color": "#1f77b4", "opacity": 0.3}, "encoding": {"y": {"field": "lo", "type": "quantitative", "scale": {"domain": [-7.6, 1.6], "nice": false, "zero": false}, "axis": {"values": [-6,-4,-2,0], "title": "Function Minimum Value", "labelFont": "Liberation Serif", "labelFontSize": 11, "labelColor": "#222", "titleFont": "Liberation Serif", "titleFontSize": 15, "titleFontWeight": "normal", "titleColor": "#111", "gridColor": "#b8b8b8", "domain": false, "ticks": false, "labelPadding": 3, "titlePadding": 4}}, "y2": {"field": "hi"}}},
       {"mark": {"type": "line", "color": "#1f77b4", "strokeWidth": 2.2}, "encoding": {"y": {"field": "m", "type": "quantitative", "axis": {"values": [-6,-4,-2,0], "title": "Function Minimum Value", "labelFont": "Liberation Serif", "labelFontSize": 11, "labelColor": "#222", "titleFont": "Liberation Serif", "titleFontSize": 15, "titleFontWeight": "normal", "titleColor": "#111", "gridColor": "#b8b8b8", "domain": false, "ticks": false, "labelPadding": 3, "titlePadding": 4}}}}
      ]
     },
     {
      "width": 238, "height": 183,
      "encoding": {
       "x": {"field": "i", "type": "quantitative", "scale": {"domain": [1, 60], "nice": false}, "axis": {"values": [10,20,30,40,50,60], "title": "Iteration", "labelFlush": false, "labelFont": "Liberation Serif", "labelFontSize": 11, "labelColor": "#222", "titleFont": "Liberation Serif", "titleFontSize": 15, "titleFontWeight": "normal", "titleColor": "#111", "gridColor": "#b8b8b8", "domain": false, "ticks": false, "labelPadding": 3, "titlePadding": 1}},
       "y": {"field": "v", "type": "quantitative", "scale": {"domain": [-0.13, 4], "nice": false, "zero": false}, "axis": {"values": [0,1,2,3,4], "format": "d", "title": "Instantaneous Regret Difference", "labelFont": "Liberation Serif", "labelFontSize": 11, "labelColor": "#222", "titleFont": "Liberation Serif", "titleFontSize": 15, "titleFontWeight": "normal", "titleColor": "#111", "gridColor": "#b8b8b8", "domain": false, "ticks": false, "labelPadding": 3, "titlePadding": 4}},
       "color": {"field": "n", "type": "nominal", "scale": {"domain": [1,10,100,1000], "range": ["#1f77b4","#ff7f0e","#2ca02c","#d62728"]}, "legend": {"title": null, "symbolOpacity": 1, "labelFont": "Liberation Serif", "labelFontSize": 12.5, "labelExpr": "'L-BFGS-B (' + datum.label + ')'"}}
      },
      "layer": [
       {"data": {"name": "rA"}, "mark": {"type": "line", "strokeWidth": 1.8, "opacity": 0.3}},
       {"data": {"name": "sA"}, "mark": {"type": "line", "strokeWidth": 2.3}}
      ]
     }
    ],
    "spacing": 36,
    "resolve": {"scale": {"color": "independent"}, "legend": {"color": "independent"}},
    "title": {"text": "(a) Cosines (8 dim.)", "orient": "bottom", "offset": 11, "anchor": "middle", "dx": -3}
   },
   {
    "vconcat": [
     {
      "width": 238, "height": 176,
      "data": {"name": "tB"},
      "encoding": {"x": {"field": "i", "type": "quantitative", "scale": {"domain": [0, 60], "nice": false}, "axis": {"values": [0,10,20,30,40,50,60], "title": "Iteration", "labelFlush": false, "labelFont": "Liberation Serif", "labelFontSize": 11, "labelColor": "#222", "titleFont": "Liberation Serif", "titleFontSize": 15, "titleFontWeight": "normal", "titleColor": "#111", "gridColor": "#b8b8b8", "domain": false, "ticks": false, "labelPadding": 3, "titlePadding": 1}}},
      "layer": [
       {"mark": {"type": "area", "color": "#1f77b4", "opacity": 0.3}, "encoding": {"y": {"field": "lo", "type": "quantitative", "scale": {"domain": [-3.72, 0.58], "nice": false, "zero": false}, "axis": {"values": [-3,-2,-1,0], "title": "Function Minimum Value", "labelFont": "Liberation Serif", "labelFontSize": 11, "labelColor": "#222", "titleFont": "Liberation Serif", "titleFontSize": 15, "titleFontWeight": "normal", "titleColor": "#111", "gridColor": "#b8b8b8", "domain": false, "ticks": false, "labelPadding": 3, "titlePadding": 4}}, "y2": {"field": "hi"}}},
       {"mark": {"type": "line", "color": "#1f77b4", "strokeWidth": 2.2}, "encoding": {"y": {"field": "m", "type": "quantitative", "axis": {"values": [-3,-2,-1,0], "title": "Function Minimum Value", "labelFont": "Liberation Serif", "labelFontSize": 11, "labelColor": "#222", "titleFont": "Liberation Serif", "titleFontSize": 15, "titleFontWeight": "normal", "titleColor": "#111", "gridColor": "#b8b8b8", "domain": false, "ticks": false, "labelPadding": 3, "titlePadding": 4}}}}
      ]
     },
     {
      "width": 238, "height": 175,
      "encoding": {
       "x": {"field": "i", "type": "quantitative", "scale": {"domain": [1, 60], "nice": false}, "axis": {"values": [10,20,30,40,50,60], "title": "Iteration", "labelFlush": false, "labelFont": "Liberation Serif", "labelFontSize": 11, "labelColor": "#222", "titleFont": "Liberation Serif", "titleFontSize": 15, "titleFontWeight": "normal", "titleColor": "#111", "gridColor": "#b8b8b8", "domain": false, "ticks": false, "labelPadding": 3, "titlePadding": 1}},
       "y": {"field": "v", "type": "quantitative", "scale": {"domain": [-0.04, 1.2], "nice": false, "zero": false}, "axis": {"values": [0,0.25,0.5,0.75,1], "format": ".2f", "title": "Instantaneous Regret Difference", "labelFont": "Liberation Serif", "labelFontSize": 11, "labelColor": "#222", "titleFont": "Liberation Serif", "titleFontSize": 15, "titleFontWeight": "normal", "titleColor": "#111", "gridColor": "#b8b8b8", "domain": false, "ticks": false, "labelPadding": 3, "titlePadding": 4}},
       "color": {"field": "n", "type": "nominal", "scale": {"domain": [1,10,100,1000], "range": ["#1f77b4","#ff7f0e","#2ca02c","#d62728"]}, "legend": {"title": null, "symbolOpacity": 1, "labelFont": "Liberation Serif", "labelFontSize": 12.5, "labelExpr": "'L-BFGS-B (' + datum.label + ')'"}}
      },
      "layer": [
       {"data": {"name": "rB"}, "mark": {"type": "line", "strokeWidth": 1.8, "opacity": 0.3}},
       {"data": {"name": "sB"}, "mark": {"type": "line", "strokeWidth": 2.3}}
      ]
     }
    ],
    "spacing": 42,
    "resolve": {"scale": {"color": "independent"}, "legend": {"color": "independent"}},
    "title": {"text": "(b) Hartmann6D", "orient": "bottom", "offset": 11, "anchor": "middle", "dx": 1}
   }
  ],
  "spacing": 22,
  "resolve": {"scale": {"color": "independent"}, "legend": {"color": "independent"}}
 },
 {
  "vconcat": [
   {
    "width": 233, "height": 176,
    "data": {"name": "tC"},
    "encoding": {"x": {"field": "i", "type": "quantitative", "scale": {"domain": [0, 60], "nice": false}, "axis": {"values": [0,10,20,30,40,50,60], "title": "Iteration", "labelFlush": false, "labelFont": "Liberation Serif", "labelFontSize": 11, "labelColor": "#222", "titleFont": "Liberation Serif", "titleFontSize": 15, "titleFontWeight": "normal", "titleColor": "#111", "gridColor": "#b8b8b8", "domain": false, "ticks": false, "labelPadding": 3, "titlePadding": 1}}},
    "layer": [
     {"mark": {"type": "area", "color": "#1f77b4", "opacity": 0.3}, "encoding": {"y": {"field": "lo", "type": "quantitative", "scale": {"domain": [-22.9, 4.5], "nice": false, "zero": false}, "axis": {"values": [-20,-15,-10,-5,0], "title": "Function Minimum Value", "labelFont": "Liberation Serif", "labelFontSize": 11, "labelColor": "#222", "titleFont": "Liberation Serif", "titleFontSize": 15, "titleFontWeight": "normal", "titleColor": "#111", "gridColor": "#b8b8b8", "domain": false, "ticks": false, "labelPadding": 3, "titlePadding": 4}}, "y2": {"field": "hi"}}},
     {"mark": {"type": "line", "color": "#1f77b4", "strokeWidth": 2.2}, "encoding": {"y": {"field": "m", "type": "quantitative", "axis": {"values": [-20,-15,-10,-5,0], "title": "Function Minimum Value", "labelFont": "Liberation Serif", "labelFontSize": 11, "labelColor": "#222", "titleFont": "Liberation Serif", "titleFontSize": 15, "titleFontWeight": "normal", "titleColor": "#111", "gridColor": "#b8b8b8", "domain": false, "ticks": false, "labelPadding": 3, "titlePadding": 4}}}}
    ]
   },
   {
    "width": 233, "height": 175,
    "encoding": {
     "x": {"field": "i", "type": "quantitative", "scale": {"domain": [1, 60], "nice": false}, "axis": {"values": [10,20,30,40,50,60], "title": "Iteration", "labelFlush": false, "labelFont": "Liberation Serif", "labelFontSize": 11, "labelColor": "#222", "titleFont": "Liberation Serif", "titleFontSize": 15, "titleFontWeight": "normal", "titleColor": "#111", "gridColor": "#b8b8b8", "domain": false, "ticks": false, "labelPadding": 3, "titlePadding": 1}},
     "y": {"field": "v", "type": "quantitative", "scale": {"domain": [-0.23, 12.03], "nice": false, "zero": false}, "axis": {"values": [0,2.5,5,7.5,10], "format": ".1f", "title": "Instantaneous Regret Difference", "labelFont": "Liberation Serif", "labelFontSize": 11, "labelColor": "#222", "titleFont": "Liberation Serif", "titleFontSize": 15, "titleFontWeight": "normal", "titleColor": "#111", "gridColor": "#b8b8b8", "domain": false, "ticks": false, "labelPadding": 3, "titlePadding": 4}},
     "color": {"field": "n", "type": "nominal", "scale": {"domain": [1,10,100,1000], "range": ["#1f77b4","#ff7f0e","#2ca02c","#d62728"]}, "legend": {"title": null, "symbolOpacity": 1, "labelFont": "Liberation Serif", "labelFontSize": 12.5, "labelExpr": "'L-BFGS-B (' + datum.label + ')'"}}
    },
    "layer": [
     {"data": {"name": "rC"}, "mark": {"type": "line", "strokeWidth": 1.8, "opacity": 0.3}},
     {"data": {"name": "sC"}, "mark": {"type": "line", "strokeWidth": 2.3}}
    ]
   }
  ],
  "spacing": 42,
  "resolve": {"scale": {"color": "independent"}, "legend": {"color": "independent"}},
  "title": {"text": "(c) Holdertable", "orient": "bottom", "offset": 11, "anchor": "middle", "dx": 0}
 }
],
"spacing": 27,
"resolve": {"scale": {"color": "independent"}, "legend": {"color": "independent"}}
}
